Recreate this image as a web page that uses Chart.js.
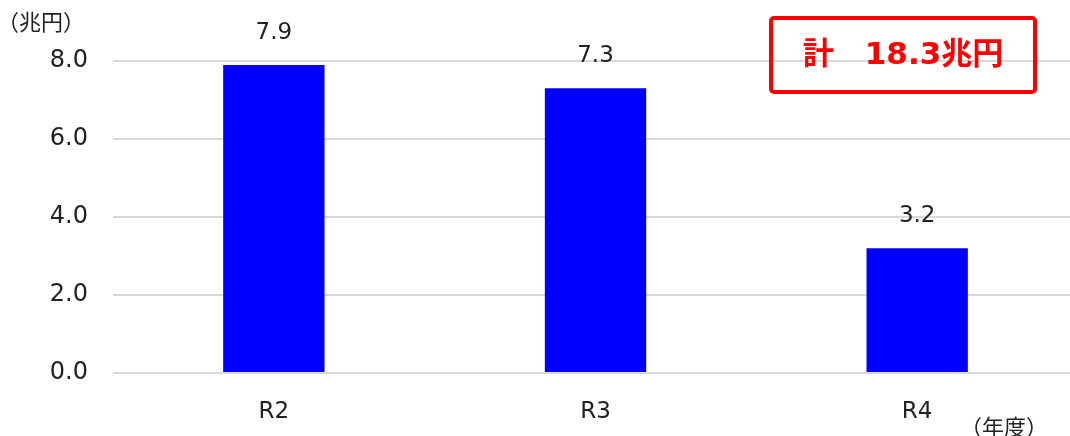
<!DOCTYPE html>
<html>
<head>
<meta charset="utf-8">
<script src="https://cdn.jsdelivr.net/npm/chart.js@4"></script>
<style>
  html, body { margin: 0; padding: 0; background: #fff; overflow: hidden; }
  #wrap { width: 1078px; height: 436px; position: relative; }
</style>
</head>
<body>
<div id="wrap"><canvas id="barchart"></canvas></div>
<script>
const categories = ['R2', 'R3', 'R4'];
const values = [7.9, 7.3, 3.2];
const valueLabels = ['7.9', '7.3', '3.2'];
const yTicks = [0, 2, 4, 6, 8];
const unitLabel = '（兆円）';
const yearLabel = '（年度）';
const totalLabel = '計　18.3兆円';

const FONT = "'DejaVu Sans', Verdana, 'Noto Sans CJK JP', sans-serif";

// labels above bars + unit texts + total box
const extras = {
  id: 'extras',
  afterDatasetsDraw(chart) {
    const ctx = chart.ctx;
    const meta = chart.getDatasetMeta(0);
    ctx.save();
    ctx.fillStyle = '#222';
    ctx.font = '23px ' + FONT;
    ctx.textAlign = 'center';
    ctx.textBaseline = 'middle';
    meta.data.forEach(function (bar, i) {
      ctx.fillText(valueLabels[i], bar.x, bar.y - 32);
    });

    ctx.font = "22px 'Noto Sans CJK JP', sans-serif";
    ctx.textAlign = 'left';
    ctx.fillText(unitLabel, -3, 22);
    ctx.fillText(yearLabel, 960, 427);

    // total box
    ctx.strokeStyle = '#ff0000';
    ctx.lineWidth = 4;
    ctx.beginPath();
    ctx.roundRect(771, 18, 264, 74, 3);
    ctx.stroke();
    ctx.fillStyle = '#ff0000';
    ctx.font = "bold 31px 'DejaVu Sans', 'Noto Sans CJK JP', sans-serif";
    ctx.textAlign = 'center';
    ctx.fillText(totalLabel, 903, 56);
    ctx.restore();
  },
};

new Chart(document.getElementById('barchart'), {
  type: 'bar',
  data: {
    labels: categories,
    datasets: [
      {
        data: values,
        backgroundColor: '#0000ff',
        borderWidth: 0,
        barPercentage: 0.315,
        categoryPercentage: 1,
      },
    ],
  },
  options: {
    responsive: true,
    maintainAspectRatio: false,
    animation: false,
    layout: { padding: { top: 61, left: 0, right: 0, bottom: 0 } },
    plugins: {
      legend: { display: false },
      tooltip: { enabled: false },
    },
    scales: {
      x: {
        grid: { display: false, drawTicks: false },
        border: { display: false },
        ticks: { color: '#222', font: { size: 23, family: FONT }, padding: 25 },
        afterFit(axis) { axis.height = 63; },
      },
      y: {
        min: 0,
        max: 8,
        afterBuildTicks(axis) { axis.ticks = yTicks.map(v => ({ value: v })); },
        grid: { color: '#d9d9d9', lineWidth: 2, drawTicks: false },
        border: { display: false },
        ticks: {
          color: '#222',
          font: { size: 24, family: FONT },
          padding: 25,
          callback: v => v.toFixed(1),
        },
        afterFit(axis) { axis.width = 113; },
      },
    },
  },
  plugins: [extras],
});
</script>
</body>
</html>
